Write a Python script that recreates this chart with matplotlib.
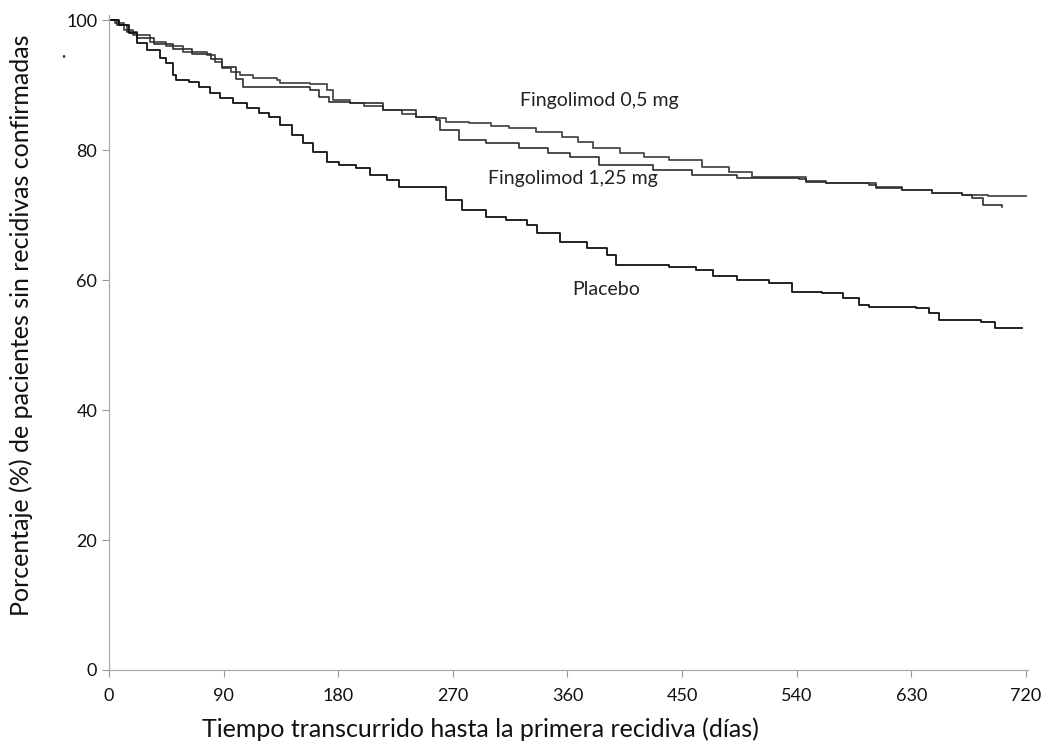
import matplotlib
matplotlib.use("Agg")
import matplotlib.pyplot as plt

# Kaplan-Meier step data (day, % without relapse)
placebo_days = [0, 8, 16, 22, 30, 40, 45, 50, 53, 63, 71, 79, 87, 97, 108, 118, 126,
                134, 144, 152, 160, 171, 181, 194, 205, 218, 228, 249, 265, 277, 296,
                312, 328, 336, 354, 375, 391, 398, 440, 461, 474, 493, 518, 536, 560,
                576, 589, 597, 634, 644, 652, 685, 696, 717]
placebo_pct = [100, 99.2, 98.0, 96.5, 95.4, 94.2, 93.4, 91.5, 90.8, 90.5, 89.7, 88.8,
               88.0, 87.2, 86.5, 85.7, 85.1, 83.8, 82.3, 81.1, 79.7, 78.2, 77.7, 77.2,
               76.2, 75.4, 74.3, 74.3, 72.3, 70.8, 69.7, 69.2, 68.5, 67.2, 65.8, 64.9,
               63.8, 62.3, 62.0, 61.5, 60.6, 60.0, 59.5, 58.2, 58.0, 57.2, 56.2, 55.8,
               55.7, 54.9, 53.8, 53.5, 52.6, 52.6]

fg05_days = [0, 5, 12, 19, 32, 45, 58, 77, 83, 89, 96, 103, 113, 132, 134, 158, 171,
             176, 189, 200, 215, 230, 241, 257, 265, 283, 300, 314, 335, 356, 368, 380,
             401, 420, 440, 466, 487, 505, 547, 563, 602, 623, 646, 670, 690, 720]
fg05_pct = [100, 99.5, 98.5, 97.7, 96.7, 96.0, 95.1, 94.6, 93.5, 92.6, 92.0, 91.5,
            91.1, 90.8, 90.3, 90.2, 89.2, 87.7, 87.2, 86.8, 86.2, 85.6, 85.1, 84.9,
            84.3, 84.1, 83.7, 83.4, 82.8, 82.0, 81.2, 80.3, 79.5, 79.0, 78.5, 77.4,
            76.6, 75.8, 75.3, 74.9, 74.4, 73.8, 73.4, 73.1, 72.9, 72.9]

fg125_days = [0, 6, 14, 22, 35, 50, 65, 80, 89, 100, 105, 158, 165, 173, 189, 215, 241,
              257, 260, 275, 296, 322, 345, 362, 385, 427, 458, 493, 542, 547, 563, 597,
              602, 623, 646, 670, 678, 686, 701]
fg125_pct = [100, 99.2, 98.2, 97.2, 96.3, 95.5, 94.8, 94.0, 92.8, 91.0, 89.7, 89.2,
             88.2, 87.4, 87.2, 86.2, 85.1, 84.6, 83.1, 81.5, 81.1, 80.3, 79.6, 78.9,
             77.7, 76.9, 76.2, 75.7, 75.5, 75.1, 74.9, 74.6, 74.1, 73.8, 73.4, 73.1,
             72.6, 71.5, 71.2]

x_ticks = [0, 90, 180, 270, 360, 450, 540, 630, 720]
y_ticks = [0, 20, 40, 60, 80, 100]

plt.rcParams['font.family'] = ['Lato', 'DejaVu Sans']

fig = plt.figure(figsize=(10.46, 7.49), dpi=100)
ax = fig.add_axes([0.1042, 0.1055, 0.879, 0.8745])

ax.plot(fg05_days, fg05_pct, drawstyle='steps-post', color='#4a4a4a', lw=1.3)
ax.plot(fg125_days, fg125_pct, drawstyle='steps-post', color='#2e2e2e', lw=1.2)
ax.plot(placebo_days, placebo_pct, drawstyle='steps-post', color='#111111', lw=1.3)

ax.text(323, 87.7, 'Fingolimod 0,5 mg', fontsize=14, va='center', color='#222222')
ax.text(298, 75.6, 'Fingolimod 1,25 mg', fontsize=14, va='center', color='#222222')
ax.text(364, 58.5, 'Placebo', fontsize=14, va='center', color='#222222')

ax.set_xlim(0, 722)
ax.set_ylim(0, 100.8)
ax.set_xticks(x_ticks)
ax.set_yticks(y_ticks)
ax.tick_params(axis='both', labelsize=13, colors='#999999', labelcolor='#111111',
               length=5, width=0.8)
ax.tick_params(axis='x', pad=8)

for side in ['top', 'right']:
    ax.spines[side].set_visible(False)
for side in ['left', 'bottom']:
    ax.spines[side].set_color('#aaaaaa')
    ax.spines[side].set_linewidth(0.9)
    ax.spines[side].set_linestyle((0, (4, 1)))

ax.set_xlabel('Tiempo transcurrido hasta la primera recidiva (días)', fontsize=18,
              color='#111111')
ax.set_ylabel('Porcentaje (%) de pacientes sin recidivas confirmadas', fontsize=18,
              color='#111111')
ax.xaxis.set_label_coords(0.404, -0.073)
ax.yaxis.set_label_coords(-0.083, 0.527)

fig.text(0.059, 0.922, '•', fontsize=5, color='#333333')

fig.savefig('out.png', dpi=100)
